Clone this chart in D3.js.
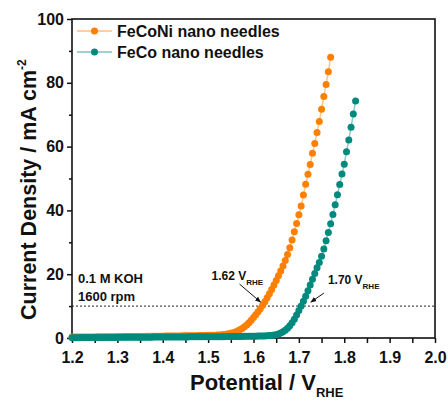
<!DOCTYPE html>
<html>
<head>
<meta charset="utf-8">
<script src="https://cdn.jsdelivr.net/npm/d3@7"></script>
<style>
  body { margin: 0; background: #fff; }
  text { font-family: Arial, 'Liberation Sans', sans-serif; font-weight: bold; fill: #111; }
</style>
</head>
<body>
<svg id="chart" width="448" height="400"></svg>
<script>
// LSV scan, 5 mV steps (V vs RHE)
const potentials = [
  1.200,1.205,1.210,1.215,1.220,1.225,1.230,1.235,1.240,1.245,1.250,1.255,1.260,1.265,1.270,1.275,1.280,1.285,1.290,1.295,
  1.300,1.305,1.310,1.315,1.320,1.325,1.330,1.335,1.340,1.345,1.350,1.355,1.360,1.365,1.370,1.375,1.380,1.385,1.390,1.395,
  1.400,1.405,1.410,1.415,1.420,1.425,1.430,1.435,1.440,1.445,1.450,1.455,1.460,1.465,1.470,1.475,1.480,1.485,1.490,1.495,
  1.500,1.505,1.510,1.515,1.520,1.525,1.530,1.535,1.540,1.545,1.550,1.555,1.560,1.565,1.570,1.575,1.580,1.585,1.590,1.595,
  1.600,1.605,1.610,1.615,1.620,1.625,1.630,1.635,1.640,1.645,1.650,1.655,1.660,1.665,1.670,1.675,1.680,1.685,1.690,1.695,
  1.700,1.705,1.710,1.715,1.720,1.725,1.730,1.735,1.740,1.745,1.750,1.755,1.760,1.765,1.770,1.775,1.780,1.785,1.790,1.795,
  1.800,1.805,1.810,1.815,1.820,1.825
];

// current density, mA cm-2
const currentFeCoNi = [
  0.30,0.31,0.31,0.32,0.32,0.33,0.33,0.34,0.34,0.35,0.35,0.36,0.36,0.37,0.37,0.38,0.38,0.39,0.40,0.41,
  0.42,0.43,0.43,0.44,0.45,0.45,0.46,0.47,0.47,0.48,0.49,0.50,0.50,0.51,0.52,0.53,0.54,0.55,0.56,0.57,
  0.58,0.59,0.60,0.61,0.62,0.63,0.64,0.65,0.66,0.67,0.68,0.69,0.70,0.71,0.72,0.74,0.76,0.78,0.80,0.82,
  0.85,0.87,0.88,0.90,0.92,0.96,1.00,1.08,1.18,1.30,1.45,1.65,1.90,2.20,2.60,3.00,3.50,4.10,4.80,5.60,
  6.40,7.30,8.20,9.20,10.3,11.4,12.6,13.9,15.2,16.6,18.0,19.5,21.0,22.6,24.3,26.2,28.3,30.7,33.3,35.9,
  38.6,41.4,44.8,48.2,51.3,54.4,57.9,61.0,64.4,67.9,71.7,75.7,79.5,83.5,88.0
];

const currentFeCo = [
  0.10,0.10,0.11,0.11,0.12,0.12,0.13,0.13,0.14,0.14,0.15,0.15,0.16,0.16,0.17,0.17,0.18,0.18,0.19,0.19,
  0.20,0.20,0.21,0.21,0.22,0.22,0.23,0.23,0.24,0.24,0.25,0.25,0.26,0.26,0.27,0.27,0.28,0.28,0.29,0.29,
  0.30,0.30,0.31,0.31,0.32,0.32,0.33,0.33,0.34,0.34,0.35,0.35,0.36,0.36,0.37,0.37,0.38,0.38,0.39,0.39,
  0.40,0.40,0.41,0.41,0.42,0.42,0.43,0.43,0.44,0.44,0.45,0.46,0.47,0.48,0.49,0.50,0.51,0.52,0.53,0.54,
  0.55,0.57,0.59,0.61,0.63,0.66,0.70,0.75,0.82,0.92,1.05,1.25,1.55,1.95,2.45,3.05,3.85,4.80,5.90,7.20,
  8.60,10.0,11.5,13.1,14.8,16.6,18.4,20.2,22.0,23.7,25.6,27.9,30.5,33.1,35.8,38.7,41.8,44.9,48.1,51.4,
  54.5,58.4,62.1,66.1,70.2,74.3
];

const seriesNames = ['FeCoNi nano needles', 'FeCo nano needles'];
const seriesColors = ['#ff7f00', '#008a7e'];

const xTicks = [1.2, 1.3, 1.4, 1.5, 1.6, 1.7, 1.8, 1.9, 2.0];
const xMinorTicks = [1.25, 1.35, 1.45, 1.55, 1.65, 1.75, 1.85, 1.95];
const yTicks = [0, 20, 40, 60, 80, 100];
const yMinorTicks = [10, 30, 50, 70, 90];

const refCurrent = 10;
const onsetPotentials = [1.62, 1.70];
const onsetLabels = ['1.62', '1.70'];
const conditionLines = ['0.1 M KOH', '1600 rpm'];

const svg = d3.select('#chart');
const margin = { top: 19, right: 13, bottom: 62, left: 72 };
const width = 448, height = 400;

const x = d3.scaleLinear().domain([1.2, 2.0]).range([margin.left, width - margin.right]);
const y = d3.scaleLinear().domain([0, 100]).range([height - margin.bottom, margin.top]);

// axes
svg.append('g')
  .attr('transform', `translate(0,${y(0)})`)
  .call(d3.axisBottom(x).tickValues(xTicks).tickFormat(d3.format('.1f')).tickSize(5).tickPadding(9));
svg.append('g')
  .attr('transform', `translate(0,${y(0)})`)
  .call(d3.axisBottom(x).tickValues(xMinorTicks).tickFormat('').tickSize(5));
svg.append('g')
  .attr('transform', `translate(${x(1.2)},0)`)
  .call(d3.axisLeft(y).tickValues(yTicks).tickSize(5).tickPadding(3));
svg.append('g')
  .attr('transform', `translate(${x(1.2)},0)`)
  .call(d3.axisLeft(y).tickValues(yMinorTicks).tickFormat('').tickSize(3));

svg.selectAll('.domain').remove();
svg.selectAll('.tick line').attr('stroke', '#111').attr('stroke-width', 1.5);
svg.selectAll('.tick text').style('font-size', '16px').style('font-weight', 'bold').attr('fill', '#111');

// frame
svg.append('rect')
  .attr('x', x(1.2))
  .attr('y', y(100))
  .attr('width', x(2.0) - x(1.2))
  .attr('height', y(0) - y(100))
  .attr('fill', 'none')
  .attr('stroke', '#111')
  .attr('stroke-width', 1.6);

// 10 mA reference line
svg.append('line')
  .attr('x1', x(1.2)).attr('x2', x(2.0))
  .attr('y1', y(refCurrent)).attr('y2', y(refCurrent))
  .attr('stroke', '#222')
  .attr('stroke-width', 1)
  .attr('stroke-dasharray', '2,2');

// curves
const series = [currentFeCoNi, currentFeCo].map((vals) =>
  vals.map((v, i) => ({ x: potentials[i], y: v }))
);

const line = d3.line().x((d) => x(d.x)).y((d) => y(d.y));

series.forEach((data, k) => {
  svg.append('path')
    .datum(data)
    .attr('fill', 'none')
    .attr('stroke', seriesColors[k])
    .attr('stroke-opacity', 0.45)
    .attr('stroke-width', 1.5)
    .attr('d', line);

  svg.append('g')
    .selectAll('circle')
    .data(data)
    .enter()
    .append('circle')
    .attr('cx', (d) => x(d.x))
    .attr('cy', (d) => y(d.y))
    .attr('r', 3.5)
    .attr('fill', seriesColors[k]);
});

// legend
seriesNames.forEach((name, k) => {
  const ly = 31 + k * 21;
  svg.append('line')
    .attr('x1', 77).attr('x2', 112)
    .attr('y1', ly).attr('y2', ly)
    .attr('stroke', seriesColors[k])
    .attr('stroke-opacity', 0.5)
    .attr('stroke-width', 1.5);
  svg.append('circle')
    .attr('cx', 94.5).attr('cy', ly)
    .attr('r', 3.5)
    .attr('fill', seriesColors[k]);
  svg.append('text')
    .attr('x', 117).attr('y', ly + 6)
    .style('font-size', '16px')
    .text(name);
});

// electrolyte conditions
conditionLines.forEach((t, i) => {
  svg.append('text')
    .attr('x', 78).attr('y', 283 + i * 18)
    .style('font-size', '13px')
    .text(t);
});

// onset labels with arrows
const labelOffsets = [
  { tx: -51, ty: -26, ax1: -23, ay1: -22, ax2: -2, ay2: -4 },
  { tx: 29, ty: -22, ax1: 25, ay1: -13, ax2: 12, ay2: -4 }
];

svg.append('defs').append('marker')
  .attr('id', 'arrow')
  .attr('viewBox', '0 0 10 10')
  .attr('refX', 9).attr('refY', 5)
  .attr('markerWidth', 6).attr('markerHeight', 6)
  .attr('orient', 'auto')
  .append('path')
  .attr('d', 'M0,1 L10,5 L0,9 Z')
  .attr('fill', '#111');

onsetPotentials.forEach((p, k) => {
  const o = labelOffsets[k];
  const px = x(p), py = y(refCurrent);
  const t = svg.append('text')
    .attr('x', px + o.tx).attr('y', py + o.ty)
    .style('font-size', '12px');
  t.append('tspan').text(onsetLabels[k] + ' V');
  t.append('tspan').attr('dy', 5).style('font-size', '8px').text('RHE');
  svg.append('line')
    .attr('x1', px + o.ax1).attr('y1', py + o.ay1)
    .attr('x2', px + o.ax2).attr('y2', py + o.ay2)
    .attr('stroke', '#111')
    .attr('stroke-width', 1)
    .attr('marker-end', 'url(#arrow)');
});

// axis titles
const xTitle = svg.append('text')
  .attr('x', 190).attr('y', 390)
  .style('font-size', '22px');
xTitle.append('tspan').text('Potential / V');
xTitle.append('tspan').attr('dy', 7).style('font-size', '13px').text('RHE');

const yTitle = svg.append('text')
  .attr('transform', 'translate(36,320) rotate(-90)')
  .style('font-size', '21.5px');
yTitle.append('tspan').text('Current Density / mA cm');
yTitle.append('tspan').attr('dy', -10).style('font-size', '12px').text('-2');
</script>
</body>
</html>
